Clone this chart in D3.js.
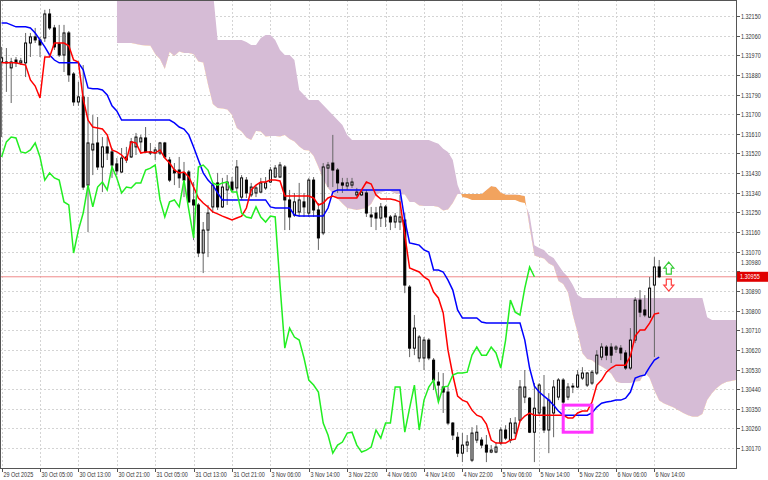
<!DOCTYPE html>
<html><head><meta charset="utf-8">
<script src="https://cdn.jsdelivr.net/npm/d3@7"></script>
<style>body{margin:0;background:#fff}svg{display:block}</style>
</head><body><svg id="c" width="768" height="480"></svg>
<script>
// ---- data (H1 candles + Ichimoku) ----
const opens=[1.31939,1.31939,1.31912,1.31948,1.31935,1.31935,1.32026,1.32054,1.32040,1.32049,
1.32159,1.32095,1.32022,1.31971,1.32072,1.31884,1.31756,1.31779,1.31375,1.31536,
1.31568,1.31458,1.31550,1.31527,1.31472,1.31435,1.31490,1.31504,1.31550,1.31573,
1.31591,1.31527,1.31522,1.31522,1.31568,1.31490,1.31444,1.31444,1.31431,1.31435,
1.31307,1.31284,1.31064,1.31169,1.31275,1.31385,1.31275,1.31353,1.31389,1.31362,
1.31320,1.31398,1.31330,1.31339,1.31343,1.31362,1.31389,1.31412,1.31412,1.31458,
1.31307,1.31238,1.31252,1.31298,1.31247,1.31398,1.31261,1.31156,1.31453,1.31476,
1.31444,1.31385,1.31371,1.31375,1.31330,1.31330,1.31339,1.31238,1.31247,1.31224,
1.31275,1.31229,1.31206,1.31206,1.31215,1.30908,1.30628,1.30583,1.30583,1.30665,
1.30573,1.30473,1.30450,1.30427,1.30285,1.30220,1.30147,1.30184,1.30115,1.30207,
1.30207,1.30184,1.30152,1.30152,1.30193,1.30253,1.30207,1.30239,1.30298,1.30404,
1.30399,1.30243,1.30331,1.30358,1.30253,1.30331,1.30404,1.30482,1.30404,1.30450,
1.30450,1.30491,1.30459,1.30468,1.30514,1.30587,1.30633,1.30633,1.30624,1.30628,
1.30606,1.30537,1.30665,1.30848,1.30803,1.30770,1.30917,1.31000];
const highs=[1.32008,1.32003,1.31958,1.31962,1.31958,1.32072,1.32072,1.32095,1.32054,1.32178,
1.32182,1.32109,1.32109,1.32109,1.32081,1.31893,1.31848,1.31925,1.31779,1.31696,
1.31687,1.31595,1.31595,1.31545,1.31499,1.31545,1.31550,1.31591,1.31614,1.31605,
1.31641,1.31568,1.31550,1.31573,1.31573,1.31504,1.31476,1.31504,1.31481,1.31444,
1.31389,1.31293,1.31206,1.31284,1.31385,1.31431,1.31408,1.31421,1.31412,1.31490,
1.31421,1.31412,1.31385,1.31375,1.31408,1.31412,1.31458,1.31467,1.31481,1.31467,
1.31353,1.31339,1.31385,1.31339,1.31408,1.31412,1.31293,1.31476,1.31481,1.31605,
1.31453,1.31408,1.31408,1.31408,1.31362,1.31357,1.31353,1.31275,1.31275,1.31293,
1.31284,1.31238,1.31247,1.31330,1.31247,1.30917,1.30780,1.30688,1.30679,1.30674,
1.30583,1.30518,1.30514,1.30450,1.30289,1.30243,1.30239,1.30230,1.30266,1.30275,
1.30220,1.30230,1.30184,1.30198,1.30266,1.30275,1.30308,1.30312,1.30482,1.30528,
1.30404,1.30468,1.30468,1.30505,1.30422,1.30482,1.30491,1.30491,1.30468,1.30468,
1.30528,1.30541,1.30518,1.30528,1.30619,1.30651,1.30642,1.30651,1.30642,1.30642,
1.30619,1.30720,1.30862,1.30894,1.30871,1.30954,1.31045,1.31032];
const lows=[1.31595,1.31802,1.31751,1.31916,1.31925,1.31870,1.31962,1.32026,1.31962,1.32031,
1.32086,1.31994,1.31962,1.31893,1.31848,1.31738,1.31738,1.31353,1.31160,1.31421,
1.31444,1.31343,1.31490,1.31408,1.31421,1.31431,1.31476,1.31499,1.31513,1.31527,
1.31522,1.31513,1.31490,1.31513,1.31499,1.31389,1.31375,1.31362,1.31320,1.31293,
1.31123,1.31045,1.30972,1.31045,1.31247,1.31261,1.31270,1.31284,1.31343,1.31339,
1.31307,1.31316,1.31320,1.31320,1.31339,1.31353,1.31385,1.31408,1.31408,1.31169,
1.31169,1.31229,1.31229,1.31229,1.31229,1.31229,1.31078,1.31146,1.31366,1.31366,
1.31339,1.31339,1.31353,1.31362,1.31320,1.31325,1.31229,1.31183,1.31169,1.31183,
1.31183,1.31169,1.31178,1.31169,1.30880,1.30587,1.30596,1.30564,1.30528,1.30573,
1.30436,1.30381,1.30331,1.30275,1.30207,1.30129,1.30106,1.30152,1.30106,1.30193,
1.30170,1.30106,1.30147,1.30147,1.30184,1.30207,1.30193,1.30220,1.30289,1.30376,
1.30239,1.30106,1.30321,1.30239,1.30147,1.30220,1.30390,1.30298,1.30390,1.30422,
1.30445,1.30482,1.30450,1.30459,1.30505,1.30573,1.30573,1.30560,1.30606,1.30573,
1.30528,1.30528,1.30651,1.30770,1.30770,1.30766,1.30587,1.30949];
const closes=[1.31958,1.31935,1.31939,1.31935,1.31944,1.32026,1.32054,1.32040,1.32017,1.32159,
1.32095,1.32008,1.31971,1.32072,1.31880,1.31756,1.31779,1.31366,1.31568,1.31563,
1.31458,1.31550,1.31522,1.31467,1.31440,1.31499,1.31504,1.31573,1.31595,1.31591,
1.31527,1.31522,1.31536,1.31568,1.31504,1.31398,1.31431,1.31408,1.31398,1.31298,
1.31284,1.31064,1.31169,1.31247,1.31375,1.31275,1.31366,1.31389,1.31353,1.31458,
1.31408,1.31339,1.31366,1.31362,1.31385,1.31385,1.31444,1.31453,1.31467,1.31307,
1.31229,1.31298,1.31307,1.31275,1.31398,1.31261,1.31133,1.31458,1.31467,1.31444,
1.31385,1.31375,1.31385,1.31389,1.31343,1.31343,1.31247,1.31229,1.31224,1.31275,
1.31229,1.31206,1.31233,1.31229,1.30917,1.30628,1.30720,1.30679,1.30665,1.30583,
1.30482,1.30459,1.30427,1.30285,1.30230,1.30147,1.30184,1.30198,1.30239,1.30243,
1.30184,1.30152,1.30161,1.30175,1.30253,1.30216,1.30285,1.30285,1.30450,1.30450,
1.30243,1.30353,1.30459,1.30253,1.30390,1.30450,1.30482,1.30381,1.30450,1.30454,
1.30505,1.30514,1.30514,1.30518,1.30596,1.30633,1.30596,1.30596,1.30633,1.30606,
1.30537,1.30665,1.30848,1.30793,1.30780,1.30903,1.31000,1.30955];
const tenkan=[1.31935,1.31935,1.31935,1.31935,1.31930,1.31925,1.31857,1.31829,1.31774,1.31962,
1.31962,1.32026,1.32026,1.32026,1.32013,1.31948,1.31939,1.31770,1.31673,1.31641,
1.31637,1.31632,1.31605,1.31536,1.31527,1.31513,1.31490,1.31573,1.31568,1.31522,
1.31527,1.31527,1.31522,1.31536,1.31499,1.31476,1.31444,1.31431,1.31435,1.31412,
1.31366,1.31316,1.31293,1.31275,1.31252,1.31243,1.31233,1.31224,1.31215,1.31224,
1.31233,1.31270,1.31353,1.31375,1.31389,1.31389,1.31398,1.31398,1.31394,1.31325,
1.31325,1.31325,1.31325,1.31325,1.31325,1.31316,1.31284,1.31293,1.31316,1.31325,
1.31316,1.31316,1.31316,1.31316,1.31316,1.31353,1.31389,1.31380,1.31330,1.31311,
1.31311,1.31311,1.31307,1.31298,1.31146,1.30995,1.30986,1.30977,1.30954,1.30940,
1.30885,1.30858,1.30789,1.30619,1.30505,1.30408,1.30390,1.30381,1.30344,1.30321,
1.30312,1.30280,1.30207,1.30193,1.30193,1.30193,1.30207,1.30211,1.30294,1.30317,
1.30331,1.30321,1.30321,1.30321,1.30321,1.30321,1.30321,1.30321,1.30308,1.30308,
1.30331,1.30340,1.30340,1.30381,1.30459,1.30482,1.30518,1.30537,1.30550,1.30550,
1.30550,1.30592,1.30683,1.30711,1.30711,1.30743,1.30784,1.30789];
const kijun=[1.32118,1.32118,1.32109,1.32100,1.32100,1.32100,1.32095,1.32072,1.32040,1.32008,
1.31971,1.31948,1.31935,1.31935,1.31935,1.31935,1.31935,1.31903,1.31820,1.31816,
1.31816,1.31811,1.31788,1.31738,1.31715,1.31673,1.31673,1.31673,1.31673,1.31673,
1.31673,1.31673,1.31673,1.31673,1.31673,1.31673,1.31660,1.31641,1.31632,1.31605,
1.31550,1.31490,1.31431,1.31398,1.31375,1.31339,1.31307,1.31307,1.31307,1.31307,
1.31307,1.31307,1.31307,1.31307,1.31307,1.31307,1.31275,1.31270,1.31270,1.31270,
1.31270,1.31238,1.31233,1.31233,1.31233,1.31233,1.31233,1.31233,1.31270,1.31343,
1.31353,1.31353,1.31353,1.31353,1.31353,1.31353,1.31353,1.31353,1.31353,1.31353,
1.31353,1.31353,1.31353,1.31353,1.31215,1.31110,1.31105,1.31100,1.31078,1.31068,
1.30986,1.30986,1.30977,1.30940,1.30894,1.30803,1.30766,1.30766,1.30766,1.30766,
1.30748,1.30743,1.30743,1.30743,1.30743,1.30743,1.30743,1.30743,1.30743,1.30665,
1.30537,1.30454,1.30427,1.30408,1.30390,1.30367,1.30340,1.30321,1.30321,1.30321,
1.30321,1.30321,1.30321,1.30331,1.30358,1.30376,1.30381,1.30385,1.30390,1.30390,
1.30399,1.30427,1.30491,1.30500,1.30505,1.30541,1.30573,1.30587];
// Chikou span: plotted from bar 0
const chikou=[1.31504,1.31573,1.31595,1.31591,1.31527,1.31522,1.31536,1.31568,1.31504,1.31398,
1.31431,1.31408,1.31398,1.31298,1.31284,1.31064,1.31169,1.31247,1.31375,1.31275,
1.31366,1.31389,1.31353,1.31458,1.31408,1.31339,1.31366,1.31362,1.31385,1.31385,
1.31444,1.31453,1.31467,1.31307,1.31229,1.31298,1.31307,1.31275,1.31398,1.31261,
1.31133,1.31458,1.31467,1.31444,1.31385,1.31375,1.31385,1.31389,1.31343,1.31343,
1.31247,1.31229,1.31224,1.31275,1.31229,1.31206,1.31233,1.31229,1.30917,1.30628,
1.30720,1.30679,1.30665,1.30583,1.30482,1.30459,1.30427,1.30285,1.30230,1.30147,
1.30184,1.30198,1.30239,1.30243,1.30184,1.30152,1.30161,1.30175,1.30253,1.30216,
1.30285,1.30285,1.30450,1.30450,1.30243,1.30353,1.30459,1.30253,1.30390,1.30450,
1.30482,1.30381,1.30450,1.30454,1.30505,1.30514,1.30514,1.30518,1.30596,1.30633,
1.30596,1.30596,1.30633,1.30606,1.30537,1.30665,1.30848,1.30793,1.30780,1.30903,
1.31000,1.30955];
// Kumo (Senkou spans), first value at bar 24
const cloudStart=24;
const senkouA=[1.32026,1.32026,1.32026,1.32026,1.32022,1.32017,1.32015,1.32013,1.31976,1.31951,
1.31907,1.31985,1.31966,1.31987,1.31980,1.31980,1.31974,1.31941,1.31937,1.31836,
1.31747,1.31728,1.31726,1.31721,1.31696,1.31637,1.31621,1.31593,1.31582,1.31623,
1.31621,1.31598,1.31600,1.31600,1.31598,1.31605,1.31586,1.31575,1.31552,1.31536,
1.31534,1.31508,1.31458,1.31402,1.31362,1.31337,1.31314,1.31291,1.31270,1.31265,
1.31261,1.31265,1.31270,1.31288,1.31330,1.31341,1.31348,1.31348,1.31337,1.31334,
1.31332,1.31298,1.31298,1.31282,1.31279,1.31279,1.31279,1.31275,1.31259,1.31263,
1.31293,1.31334,1.31334,1.31334,1.31334,1.31334,1.31334,1.31353,1.31371,1.31366,
1.31341,1.31332,1.31332,1.31332,1.31330,1.31325,1.31181,1.31052,1.31045,1.31039,
1.31016,1.31004,1.30936,1.30922,1.30883,1.30780,1.30699,1.30605,1.30578,1.30573,
1.30555,1.30544,1.30530,1.30511,1.30475,1.30468,1.30468,1.30468,1.30475,1.30477,
1.30518,1.30491,1.30434,1.30388,1.30374,1.30365,1.30356,1.30344,1.30331,1.30321,
1.30314,1.30314,1.30326,1.30390,1.30422,1.30445,1.30463,1.30473,1.30477,1.30482];
const senkouB=[1.32269,1.32269,1.32269,1.32269,1.32269,1.32269,1.32269,1.32269,1.32269,1.32269,
1.32269,1.32269,1.32269,1.32269,1.32269,1.32269,1.32269,1.32269,1.32269,1.32269,
1.32269,1.32040,1.32040,1.32040,1.32040,1.32040,1.32040,1.32031,1.32017,1.32017,
1.32049,1.32063,1.32063,1.32040,1.31994,1.31971,1.31971,1.31948,1.31811,1.31788,
1.31765,1.31765,1.31765,1.31742,1.31719,1.31696,1.31673,1.31650,1.31605,1.31582,
1.31582,1.31582,1.31582,1.31582,1.31582,1.31582,1.31582,1.31582,1.31582,1.31582,
1.31582,1.31582,1.31582,1.31582,1.31582,1.31582,1.31573,1.31564,1.31541,1.31527,
1.31490,1.31375,1.31320,1.31316,1.31307,1.31307,1.31307,1.31307,1.31307,1.31307,
1.31307,1.31307,1.31307,1.31307,1.31298,1.31293,1.31238,1.31100,1.31087,1.31078,
1.31054,1.31041,1.31009,1.30977,1.30954,1.30917,1.30871,1.30858,1.30858,1.30858,
1.30858,1.30858,1.30858,1.30858,1.30858,1.30858,1.30858,1.30858,1.30858,1.30858,
1.30858,1.30858,1.30858,1.30858,1.30858,1.30858,1.30858,1.30858,1.30858,1.30858,
1.30858,1.30858,1.30858,1.30770,1.30757,1.30757,1.30757,1.30757,1.30757,1.30757];
const yTickValues=[1.30170,1.30260,1.30350,1.30440,1.30530,1.30620,1.30710,1.30800,1.30890,1.30980,
1.31070,1.31160,1.31250,1.31340,1.31430,1.31520,1.31610,1.31700,1.31790,1.31880,1.31970,1.32060,1.32150];
const xTickBars=[0,8,16,24,32,40,48,56,64,72,80,88,96,104,112,120,128,136];
const xTickLabels=["29 Oct 2025","30 Oct 05:00","30 Oct 13:00","30 Oct 21:00","31 Oct 05:00","31 Oct 13:00",
"31 Oct 21:00","3 Nov 06:00","3 Nov 14:00","3 Nov 22:00","4 Nov 06:00","4 Nov 14:00","4 Nov 22:00",
"5 Nov 06:00","5 Nov 14:00","5 Nov 22:00","6 Nov 06:00","6 Nov 14:00"];
const currentPrice=1.30955;
const signalBar=139, upArrowPrice=1.30995, downArrowPrice=1.30917;
const boxBars=[117,123], boxPrices=[1.30367,1.30243];

// ---- drawing ----
const PR=736, PB=468;
const svg=d3.select('#c');
const x=d3.scaleLinear().domain([0,153]).range([1.6,736]);
const y=d3.scaleLinear().domain([1.30079,1.32223]).range([PB,0]);
const defs=svg.append('defs');
defs.append('clipPath').attr('id','plot').append('rect').attr('x',0).attr('y',0).attr('width',PR).attr('height',PB);
const cx=(d,i)=>x(cloudStart+i);
defs.append('clipPath').attr('id','aboveA').append('path')
  .attr('d',d3.area().x(cx).y0(-50).y1(d=>y(d))(senkouA));
defs.append('clipPath').attr('id','belowA').append('path')
  .attr('d',d3.area().x(cx).y0(PB+50).y1(d=>y(d))(senkouA));

// grid
const grid=svg.append('g').attr('stroke','#d4d4d4').attr('stroke-dasharray','2,2').attr('stroke-width',1);
yTickValues.forEach(v=>{const yy=Math.round(y(v))+0.5;grid.append('line').attr('x1',0).attr('x2',PR).attr('y1',yy).attr('y2',yy);});
xTickBars.forEach(b=>{const xx=Math.round(x(b))+0.5;grid.append('line').attr('x1',xx).attr('x2',xx).attr('y1',0).attr('y2',PB);});

const plot=svg.append('g').attr('clip-path','url(#plot)');
// cloud
const band=d3.area().x(cx).y0((d,i)=>y(senkouA[i])).y1((d,i)=>y(senkouB[i]));
plot.append('path').attr('d',band(senkouA)).attr('fill','#d6bcd6').attr('clip-path','url(#aboveA)');
plot.append('path').attr('d',band(senkouA)).attr('fill','#f2a35e').attr('clip-path','url(#belowA)');

// current price line
plot.append('line').attr('x1',0).attr('x2',PR).attr('y1',y(currentPrice)).attr('y2',y(currentPrice))
  .attr('stroke','#f08a8a').attr('stroke-width',1);

// candles
const cg=plot.append('g');
closes.forEach((c,i)=>{
  const o=opens[i],h=highs[i],l=lows[i];const xx=x(i);
  cg.append('line').attr('x1',xx).attr('x2',xx).attr('y1',y(h)).attr('y2',y(l)).attr('stroke','#666').attr('stroke-width',1);
  const top=y(Math.max(o,c)),bot=y(Math.min(o,c));
  cg.append('rect').attr('x',xx-1).attr('width',2).attr('y',top).attr('height',Math.max(bot-top,0.8))
    .attr('fill',c>=o?'#fff':'#000').attr('stroke','#000').attr('stroke-width',1);
});

// Ichimoku lines
const ln=d3.line().x((d,i)=>x(i)).y(d=>y(d));
plot.append('path').attr('d',ln(kijun)).attr('fill','none').attr('stroke','#0000ff').attr('stroke-width',1.5);
plot.append('path').attr('d',ln(tenkan)).attr('fill','none').attr('stroke','#ff0000').attr('stroke-width',1.5);
plot.append('path').attr('d',ln(chikou)).attr('fill','none').attr('stroke','#22ee22').attr('stroke-width',1.5);

// highlight box
plot.append('rect').attr('x',x(boxBars[0])).attr('y',y(boxPrices[0]))
  .attr('width',x(boxBars[1])-x(boxBars[0])).attr('height',y(boxPrices[1])-y(boxPrices[0]))
  .attr('fill','none').attr('stroke','#ff33ff').attr('stroke-width',3);

// signal arrows
function arrow(cxp,cyp,up,color){
  const hw=5,sw=2.5,h=6;
  const d=up?`M${cxp},${cyp-6} L${cxp+hw},${cyp} L${cxp+sw},${cyp} L${cxp+sw},${cyp+h} L${cxp-sw},${cyp+h} L${cxp-sw},${cyp} L${cxp-hw},${cyp} Z`
            :`M${cxp},${cyp+6} L${cxp+hw},${cyp} L${cxp+sw},${cyp} L${cxp+sw},${cyp-h} L${cxp-sw},${cyp-h} L${cxp-sw},${cyp} L${cxp-hw},${cyp} Z`;
  plot.append('path').attr('d',d).attr('fill','#fff').attr('stroke',color).attr('stroke-width',1.2);
}
arrow(x(signalBar),y(upArrowPrice),true,'#33cc33');
arrow(x(signalBar),y(downArrowPrice),false,'#ff4040');

// frame
svg.append('rect').attr('x',0.5).attr('y',0.5).attr('width',PR).attr('height',PB)
  .attr('fill','none').attr('stroke','#555').attr('stroke-width',1);

// axes text
const font='"Liberation Sans", Arial, sans-serif';
function txt(xx,yy,s,fill){
  return svg.append('text').attr('transform',`translate(${xx},${yy}) scale(0.78,1)`)
    .attr('font-family',font).attr('font-size',7).attr('fill',fill||'#333').text(s);
}
yTickValues.forEach(v=>{
  const yy=Math.round(y(v))+0.5;
  svg.append('line').attr('x1',PR).attr('x2',PR+4).attr('y1',yy).attr('y2',yy).attr('stroke','#555');
  const shift=(Math.abs(v-1.30980)<1e-7)?-9:0;
  txt(PR+5,yy+2.5+shift,v.toFixed(5));
});
xTickBars.forEach((b,k)=>{
  const xx=Math.round(x(b))+0.5;
  svg.append('line').attr('x1',xx).attr('x2',xx).attr('y1',PB).attr('y2',PB+4).attr('stroke','#555');
  txt(xx+1,PB+8.5,xTickLabels[k]);
});
// current price label
const py=y(currentPrice);
svg.append('rect').attr('x',PR+1).attr('y',py-5).attr('width',31).attr('height',10).attr('fill','#e00000');
txt(PR+4,py+2.5,currentPrice.toFixed(5),'#fff');
</script></body></html>
